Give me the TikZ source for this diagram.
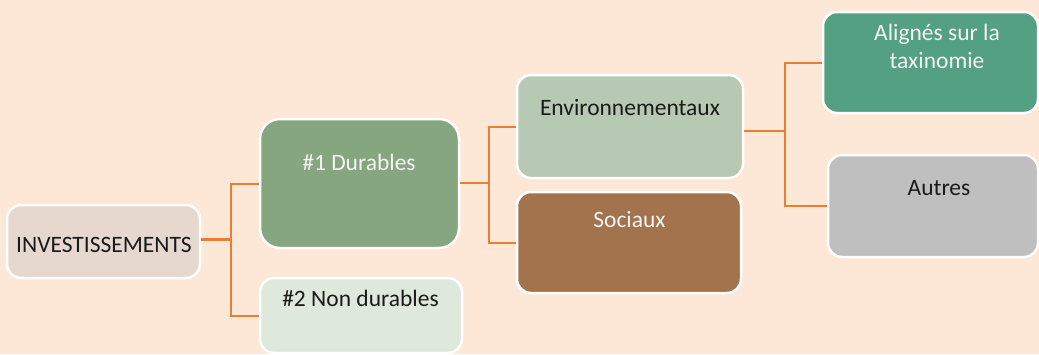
\documentclass[tikz,border=0pt]{standalone}
\usepackage{xcolor}
\usepackage{fontspec}
\setmainfont{Carlito}
\usetikzlibrary{calc}

\definecolor{peach}{HTML}{FDE7D6}
\definecolor{linkorange}{HTML}{ED7D31}
\definecolor{invfill}{HTML}{E6D8CE}
\definecolor{durfill}{HTML}{86A67F}
\definecolor{nondurfill}{HTML}{DFE8DC}
\definecolor{envfill}{HTML}{B7C9B3}
\definecolor{socfill}{HTML}{A2734D}
\definecolor{alifill}{HTML}{54A083}
\definecolor{autfill}{HTML}{BFBFBF}
\definecolor{lighttext}{HTML}{F4F4F4}
\definecolor{darktext}{HTML}{1A1A1A}

\tikzset{
  box/.style = {draw=white, line width=2.5pt, rounded corners=14pt, inner sep=0pt},
  conn/.style = {draw=linkorange, line width=2pt},
  txt/.style = {anchor=base, inner sep=0pt, font=\fontsize{23.5}{28}\selectfont, align=center}
}

\begin{document}
\begin{tikzpicture}[x=1pt, y=-1pt]

  % Background
  \fill[peach] (0,0) rectangle (1039,354);
  \useasboundingbox (0,0) rectangle (1039,354);

  % Draw boxes
  \node[box, fill=invfill, minimum width=193pt, minimum height=73pt] (inv) at (103.5,241.5) {};
  \node[box, fill=durfill, minimum width=199pt, minimum height=129pt, rounded corners=20pt] (dur) at (359.5,183.5) {};
  \node[box, fill=nondurfill, minimum width=202pt, minimum height=75pt] (nondur) at (361,315.5) {};
  \node[box, fill=envfill, minimum width=226pt, minimum height=103pt] (env) at (630,126.5) {};
  \node[box, fill=socfill, minimum width=224pt, minimum height=101pt] (soc) at (629,242.5) {};
  \node[box, fill=alifill, minimum width=215pt, minimum height=101pt] (ali) at (930.5,62.5) {};
  \node[box, fill=autfill, minimum width=210pt, minimum height=102pt] (aut) at (933,206) {};

  % Label the boxes
  \node[txt, text=darktext] (invt) at (104,252) {INVESTISSEMENTS};
  \node[txt, text=lighttext] (durt) at (359,170) {\#1 Durables};
  \node[txt, text=darktext] (nondurt) at (360.5,306.7) {\#2 Non durables};
  \node[txt, text=darktext] (envt) at (630,115.7) {Environnementaux};
  \node[txt, text=lighttext] (soct) at (629.5,227) {Sociaux};
  \node[txt, text=lighttext] (alit) at (937,68) {Alignés sur la\\taxinomie};
  \node[txt, text=darktext] (autt) at (939,195) {Autres};

  % Connectors
  \coordinate (j1) at (230.5,239.5);
  \coordinate (j2) at (488.5,183);
  \coordinate (j3) at (785,131);

  \draw[conn, line width=3pt] (inv.east |- j1) -- (j1);
  \draw[conn] (dur.west) -| (j1) |- (nondur.west);
  \draw[conn] (dur.east |- j2) -- (j2);
  \draw[conn] (env.west) -| (j2) |- (soc.west);
  \draw[conn] (env.east |- j3) -- (j3);
  \draw[conn] (ali.west) -| (j3) |- (aut.west);

\end{tikzpicture}
\end{document}
